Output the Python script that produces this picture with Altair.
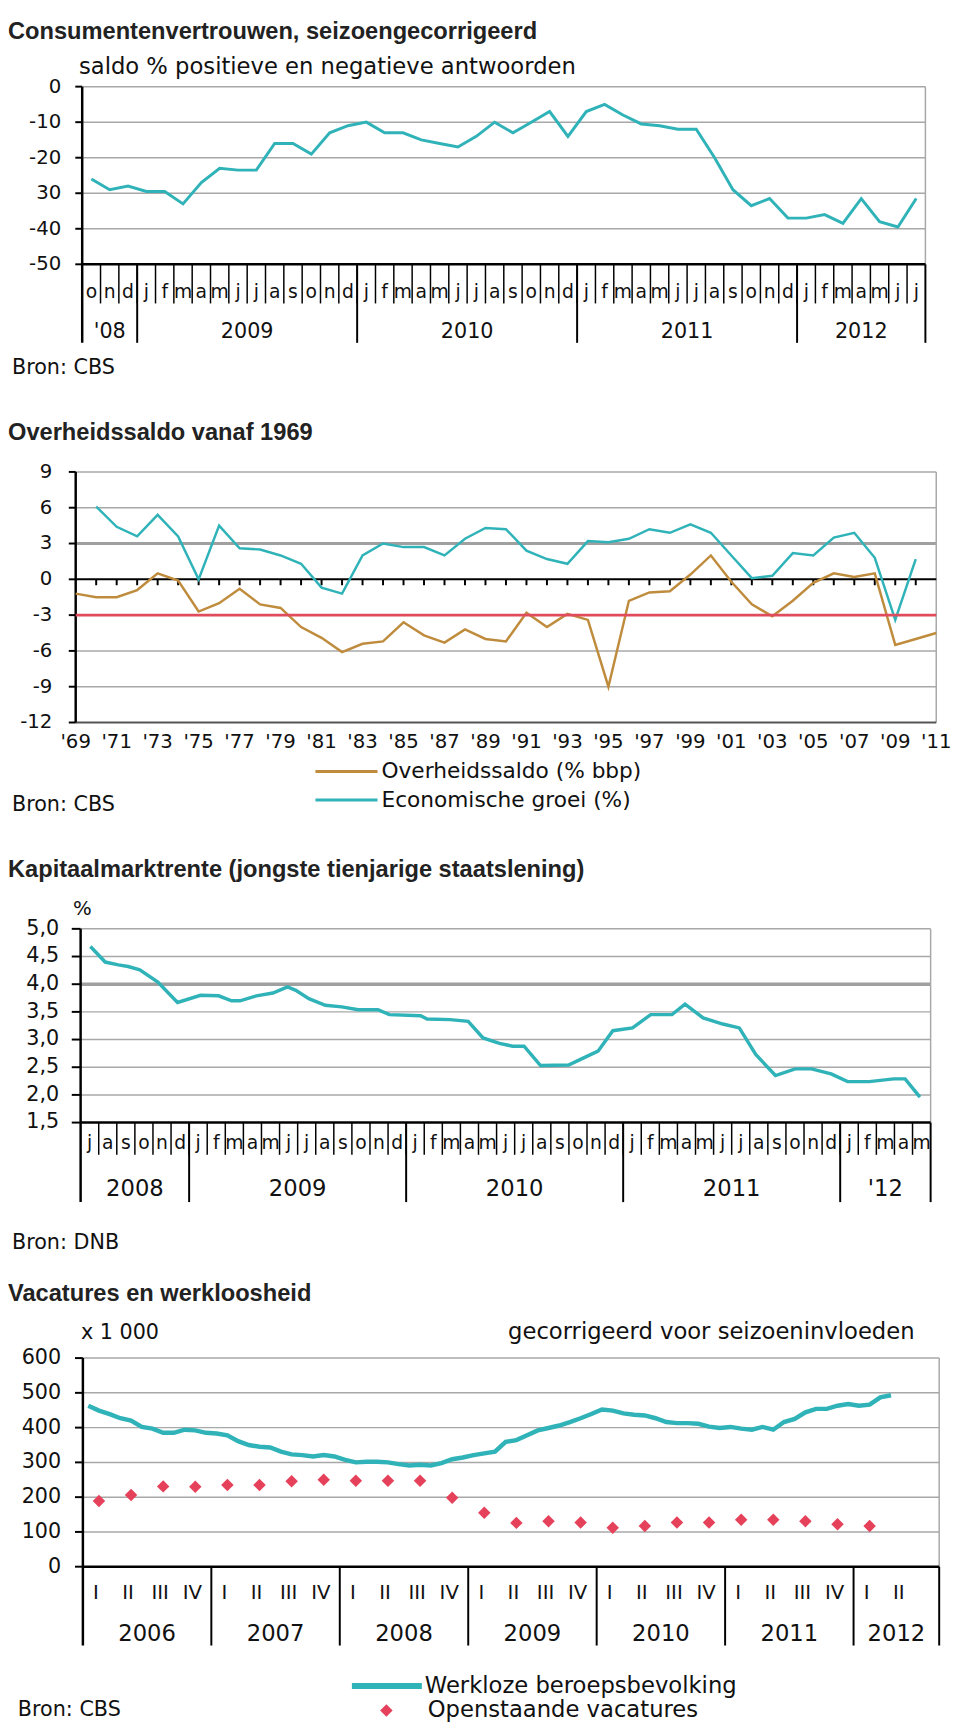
import altair as alt
import pandas as pd

# ---------------- data ----------------
# Panel 1: Consumentenvertrouwen, okt 2008 - jul 2012 (maandelijks)
cc_month_letters = list("ond") + list("jfmamjjasond") * 3 + list("jfmamjj")
cc_year_labels = ["'08", "2009", "2010", "2011", "2012"]
cc_year_months = [3, 12, 12, 12, 7]
cc_values = [-26, -29, -28, -29.5, -29.5, -33, -27, -23, -23.5, -23.5, -16, -16,
             -19, -13, -11, -10, -13, -13, -15, -16, -17, -14, -10, -13, -10, -7,
             -14, -7, -5, -8, -10.5, -11, -12, -12, -20, -29, -33.5, -31.5, -37,
             -37, -36, -38.5, -31.5, -38, -39.5, -31.5]
cc_ticks = [0, -10, -20, -30, -40, -50]
cc_tick_labels = ["0", "-10", "-20", "30", "-40", "-50"]

# Panel 2: Overheidssaldo en economische groei (jaarlijks)
os_years = list(range(1969, 2012))
os_saldo = [-1.2, -1.5, -1.5, -0.9, 0.5, -0.1, -2.7, -2.0, -0.8, -2.1, -2.4, -4.0,
            -4.9, -6.1, -5.4, -5.2, -3.6, -4.7, -5.3, -4.2, -5.0, -5.2, -2.8, -4.0,
            -2.9, -3.4, -9.0, -1.8, -1.1, -1.0, 0.4, 2.0, -0.2, -2.1, -3.1, -1.8,
            -0.3, 0.5, 0.2, 0.5, -5.5, -5.0, -4.5]
eg_years = list(range(1970, 2011))
eg_groei = [6.1, 4.4, 3.6, 5.4, 3.6, 0.0, 4.5, 2.6, 2.5, 2.0, 1.3, -0.7, -1.2, 2.0,
            3.0, 2.7, 2.7, 2.0, 3.4, 4.3, 4.2, 2.4, 1.7, 1.3, 3.2, 3.1, 3.4, 4.2,
            3.9, 4.6, 3.9, 2.0, 0.1, 0.3, 2.2, 2.0, 3.5, 3.9, 1.8, -3.4, 1.7]
os_ticks = [9, 6, 3, 0, -3, -6, -9, -12]
os_grid_thin = [9, 6, -6, -9]
os_norm = [-3]
os_label_years = list(range(1969, 2012, 2))
os_legend = ["Overheidssaldo (% bbp)", "Economische groei (%)"]

# Panel 3: Kapitaalmarktrente, jul 2008 - mei 2012 (tijd in maanden vanaf jul 2008)
kr_month_letters = list("jasond") + list("jfmamjjasond") * 3 + list("jfmam")
kr_year_labels = ["2008", "2009", "2010", "2011", "'12"]
kr_year_months = [6, 12, 12, 12, 5]
kr_time = [0.54, 1.36, 2.09, 2.63, 3.27, 4.27, 5.36, 6.63, 7.63, 8.35, 8.81, 9.72,
           10.63, 11.44, 11.9, 12.62, 13.53, 14.44, 15.35, 16.44, 17.07, 18.8, 19.16,
           20.44, 21.43, 22.25, 23.16, 23.89, 24.52, 25.43, 26.98, 27.7, 28.61, 29.43,
           30.52, 31.52, 32.7, 33.42, 34.42, 35.51, 36.42, 37.33, 38.42, 39.51, 40.41,
           41.5, 42.41, 43.6, 44.96, 45.59, 46.41]
kr_rate = [4.68, 4.40, 4.35, 4.32, 4.26, 4.04, 3.67, 3.80, 3.79, 3.70, 3.70, 3.79,
           3.84, 3.95, 3.89, 3.74, 3.62, 3.59, 3.54, 3.54, 3.45, 3.43, 3.37, 3.36,
           3.33, 3.03, 2.93, 2.88, 2.88, 2.53, 2.54, 2.65, 2.79, 3.16, 3.21, 3.45,
           3.45, 3.64, 3.39, 3.28, 3.21, 2.73, 2.35, 2.47, 2.47, 2.38, 2.24, 2.24,
           2.29, 2.29, 1.96]
kr_ticks = [5.0, 4.5, 4.0, 3.5, 3.0, 2.5, 2.0, 1.5]
kr_tick_labels = ["5,0", "4,5", "4,0", "3,5", "3,0", "2,5", "2,0", "1,5"]
kr_grid_thin = [5.0, 4.5, 3.5, 3.0, 2.5, 2.0]
kr_grid_thick = [4.0]

# Panel 4: Vacatures en werkloosheid (x 1000)
wl_values = [463, 449, 439, 427, 420, 402, 397, 385, 385, 394,
             392, 385, 383, 378, 361, 350, 345, 343, 331, 323,
             321, 317, 321, 317, 307, 300, 302, 302, 300, 295,
             291, 293, 291, 298, 309, 314, 321, 326, 331, 359,
             364, 378, 392, 399, 406, 416, 427, 439, 452, 449,
             441, 437, 435, 427, 416, 413, 413, 411, 403, 399,
             402, 397, 394, 402, 394, 416, 425, 444, 454, 454,
             463, 468, 463, 466, 487, 493]          # maandelijks vanaf jan 2006
vac_values = [189, 206, 231, 230, 235, 235, 246, 250, 247, 247, 247, 198, 155,
              126, 131, 127, 112, 117, 127, 127, 135, 135, 131, 122, 117]  # kwartalen vanaf 2006-I
vw_quarter_labels = ["I", "II", "III", "IV"] * 6 + ["I", "II"]
vw_year_labels = ["2006", "2007", "2008", "2009", "2010", "2011", "2012"]
vw_ticks = [0, 100, 200, 300, 400, 500, 600]
vw_legend = ["Werkloze beroepsbevolking", "Openstaande vacatures"]

# ---------------- styling ----------------
FONT = "DejaVu Sans"
TFONT = "Liberation Sans"
TEAL = "#30b3b8"
BROWN = "#bf8c3e"
RED = "#e04c5c"
DIAMOND = "#e6415a"
GRID = "#a8a8a8"
DARK = "#000000"
INK = "#111111"
W = 944
TSIZE = 24


def one():
    return pd.DataFrame({"k": [0]})


def px(xp):
    return xp - 8


def text(t, x, y, size, align="left", weight="normal", font=FONT, color=INK):
    return alt.Chart(pd.DataFrame({"t": [t]})).mark_text(
        align=align, baseline="middle", fontSize=size, font=font,
        fontWeight=weight, color=color
    ).encode(x=alt.value(x), y=alt.value(y), text="t:N")


def vline(x, y1, y2, color=DARK, w=2.0):
    return alt.Chart(one()).mark_rule(color=color, strokeWidth=w).encode(
        x=alt.value(x), y=alt.value(y1), y2=alt.value(y2))


def hline(y, x1, x2, color=DARK, w=2.0):
    return alt.Chart(one()).mark_rule(color=color, strokeWidth=w).encode(
        y=alt.value(y), x=alt.value(x1), x2=alt.value(x2))


def cum(counts):
    edges = [0]
    for c in counts:
        edges.append(edges[-1] + c)
    return edges


def y_axis(ticks, labels, ys, L, tick_len, label_x, size):
    tdf = pd.DataFrame({"y": ticks, "t": labels})
    ticks_l = alt.Chart(tdf).mark_rule(color=DARK, strokeWidth=2).encode(
        y=alt.Y("y:Q", scale=ys, axis=None), x=alt.value(L - tick_len), x2=alt.value(L))
    labs = alt.Chart(tdf).mark_text(align="right", baseline="middle", fontSize=size,
                                    font=FONT, color=INK).encode(
        y=alt.Y("y:Q", scale=ys, axis=None), x=alt.value(label_x), text="t:N")
    return [ticks_l, labs]


def hgrid(vals, ys, L, R, color=GRID, w=1.5):
    return alt.Chart(pd.DataFrame({"y": vals})).mark_rule(color=color, strokeWidth=w).encode(
        y=alt.Y("y:Q", scale=ys, axis=None), x=alt.value(L), x2=alt.value(R))


def vticks(vals, xs, y1, y2, w=1.5):
    return alt.Chart(pd.DataFrame({"x": vals})).mark_rule(color=DARK, strokeWidth=w).encode(
        x=alt.X("x:Q", scale=xs, axis=None), y=alt.value(y1), y2=alt.value(y2))


def xlabels(vals, labels, xs, y, size, dx=0):
    return alt.Chart(pd.DataFrame({"x": vals, "t": labels})).mark_text(
        align="center", baseline="middle", fontSize=size, font=FONT, color=INK, dx=dx
    ).encode(x=alt.X("x:Q", scale=xs, axis=None), y=alt.value(y), text="t:N")


# ---------------- panel 1 ----------------
T1 = 8
H1 = 392
L1, R1 = px(83.3), px(939)
ys1 = alt.Scale(domain=[-50, 0], range=[248.3 - T1, 68 - T1], nice=False, zero=False)
xs1 = alt.Scale(domain=[0, sum(cc_year_months)], range=[L1, R1], nice=False, zero=False)
e1 = cum(cc_year_months)
ybot1 = 248.3 - T1
p1_layers = [
    hgrid([0, -10, -20, -30, -40], ys1, L1, R1),
    alt.Chart(pd.DataFrame({"y": [0], "y2": [-50]})).mark_rule(color=GRID, strokeWidth=1.5).encode(
        y=alt.Y("y:Q", scale=ys1, axis=None), y2="y2:Q", x=alt.value(R1)),
    vticks(list(range(1, e1[-1])), xs1, ybot1, 288 - T1, 1.5),
    vticks(e1[1:], xs1, ybot1, 328 - T1, 2),
    hgrid([-50], ys1, L1, R1, DARK, 2.5),
    vline(L1, 68 - T1, 328 - T1, DARK, 2.5),
    *y_axis(cc_ticks, cc_tick_labels, ys1, L1, 7, px(62), 20),
    xlabels([i + 0.5 for i in range(len(cc_month_letters))], cc_month_letters, xs1, 276 - T1, 19),
    xlabels([(e1[i] + e1[i + 1]) / 2 for i in range(len(cc_year_labels))], cc_year_labels, xs1, 317 - T1, 21),
    alt.Chart(pd.DataFrame({"x": [i + 0.5 for i in range(len(cc_values))], "y": cc_values})).mark_line(
        color=TEAL, strokeWidth=3).encode(
        x=alt.X("x:Q", scale=xs1, axis=None), y=alt.Y("y:Q", scale=ys1, axis=None)),
    text("Consumentenvertrouwen, seizoengecorrigeerd", 0, 13 - T1, TSIZE, weight="bold", font=TFONT, color="#222222"),
    text("saldo % positieve en negatieve antwoorden", px(80), 48 - T1, 23),
    text("Bron: CBS", px(12), 354 - T1, 21),
]
p1 = alt.layer(*p1_layers).properties(width=W, height=H1)

# ---------------- panel 2 ----------------
T2 = 400
H2 = 436
L2, R2 = px(76.7), px(950)
ys2 = alt.Scale(domain=[-12, 9], range=[713.3 - T2, 459 - T2], nice=False, zero=False)
xs2 = alt.Scale(domain=[1969, 2011], range=[L2, R2], nice=False, zero=False)
y0_2 = 568 - T2
p2_layers = [
    hgrid(os_grid_thin, ys2, L2, R2),
    hgrid([3], ys2, L2, R2, "#a0a0a0", 3),
    alt.Chart(pd.DataFrame({"y": [9], "y2": [-12]})).mark_rule(color=GRID, strokeWidth=1.5).encode(
        y=alt.Y("y:Q", scale=ys2, axis=None), y2="y2:Q", x=alt.value(R2)),
    hgrid([-12], ys2, L2, R2, "#555555", 2),
    hgrid([0], ys2, L2, R2, DARK, 2),
    vticks(list(range(1970, 2011)), xs2, y0_2, y0_2 + 6, 2),
    vline(L2, 459 - T2, 713.3 - T2, DARK, 2.5),
    *y_axis(os_ticks, [str(v) for v in os_ticks], ys2, L2, 7, px(53), 20),
    xlabels(os_label_years, ["'" + str(y)[2:] for y in os_label_years], xs2, 733 - T2, 20),
    alt.Chart(pd.DataFrame({"x": eg_years, "y": eg_groei})).mark_line(color=TEAL, strokeWidth=2.5).encode(
        x=alt.X("x:Q", scale=xs2, axis=None), y=alt.Y("y:Q", scale=ys2, axis=None)),
    alt.Chart(pd.DataFrame({"x": os_years, "y": os_saldo})).mark_line(color=BROWN, strokeWidth=2.5).encode(
        x=alt.X("x:Q", scale=xs2, axis=None), y=alt.Y("y:Q", scale=ys2, axis=None)),
    hgrid(os_norm, ys2, L2, R2, RED, 3),
    text("Overheidssaldo vanaf 1969", 0, 420 - T2, TSIZE, weight="bold", font=TFONT, color="#222222"),
    hline(763 - T2, px(320), px(383), BROWN, 3),
    hline(792 - T2, px(320), px(383), TEAL, 3),
    text(os_legend[0], px(387), 763 - T2, 22),
    text(os_legend[1], px(387), 792 - T2, 22),
    text("Bron: CBS", px(12), 797 - T2, 21),
]
p2 = alt.layer(*p2_layers).properties(width=W, height=H2)

# ---------------- panel 3 ----------------
T3 = 836
H3 = 432
L3, R3 = px(81.7), px(944.3)
ys3 = alt.Scale(domain=[1.5, 5.0], range=[1119.3 - T3, 922.7 - T3], nice=False, zero=False)
xs3 = alt.Scale(domain=[0, sum(kr_year_months)], range=[L3, R3], nice=False, zero=False)
e3 = cum(kr_year_months)
ybot3 = 1119.3 - T3
p3_layers = [
    hgrid(kr_grid_thin, ys3, L3, R3),
    hgrid(kr_grid_thick, ys3, L3, R3, "#a0a0a0", 3.5),
    alt.Chart(pd.DataFrame({"y": [5.0], "y2": [1.5]})).mark_rule(color=GRID, strokeWidth=1.5).encode(
        y=alt.Y("y:Q", scale=ys3, axis=None), y2="y2:Q", x=alt.value(R3)),
    vticks(list(range(1, e3[-1])), xs3, ybot3, 1152 - T3, 1.5),
    vticks(e3[1:], xs3, ybot3, 1200 - T3, 2),
    hgrid([1.5], ys3, L3, R3, DARK, 2.5),
    vline(L3, 922.7 - T3, 1200 - T3, DARK, 2.5),
    *y_axis(kr_ticks, kr_tick_labels, ys3, L3, 9, px(60), 21),
    xlabels([i + 0.5 for i in range(len(kr_month_letters))], kr_month_letters, xs3, 1140 - T3, 19),
    xlabels([(e3[i] + e3[i + 1]) / 2 for i in range(len(kr_year_labels))], kr_year_labels, xs3, 1187 - T3, 23),
    alt.Chart(pd.DataFrame({"x": kr_time, "y": kr_rate})).mark_line(color=TEAL, strokeWidth=3.5).encode(
        x=alt.X("x:Q", scale=xs3, axis=None), y=alt.Y("y:Q", scale=ys3, axis=None)),
    text("Kapitaalmarktrente (jongste tienjarige staatslening)", 0, 863 - T3, TSIZE, weight="bold", font=TFONT, color="#222222"),
    text("%", px(74), 903 - T3, 20),
    text("Bron: DNB", px(12), 1242 - T3, 21),
]
p3 = alt.layer(*p3_layers).properties(width=W, height=H3)

# ---------------- panel 4 ----------------
T4 = 1268
H4 = 459
L4, R4 = px(84), px(953)
VW_MONTHS = 80
ys4 = alt.Scale(domain=[0, 600], range=[1570 - T4, 1358.3 - T4], nice=False, zero=False)
xs4 = alt.Scale(domain=[0, VW_MONTHS], range=[L4, R4], nice=False, zero=False)
e4 = [12 * i for i in range(len(vw_year_labels))] + [VW_MONTHS]
ybot4 = 1570 - T4
p4_layers = [
    hgrid([100, 200, 300, 400, 500, 600], ys4, L4, R4),
    alt.Chart(pd.DataFrame({"y": [600], "y2": [0]})).mark_rule(color=GRID, strokeWidth=1.5).encode(
        y=alt.Y("y:Q", scale=ys4, axis=None), y2="y2:Q", x=alt.value(R4)),
    vticks(e4[1:], xs4, ybot4, 1650 - T4, 2),
    hgrid([0], ys4, L4, R4, DARK, 2.5),
    vline(L4, 1358.3 - T4, 1650 - T4, DARK, 2.5),
    *y_axis(vw_ticks, [str(v) for v in vw_ticks], ys4, L4, 8, px(62), 21),
    xlabels([3 * q + 1.5 for q in range(len(vw_quarter_labels))], vw_quarter_labels, xs4, 1597 - T4, 20, dx=-3),
    xlabels([(e4[i] + e4[i + 1]) / 2 for i in range(len(vw_year_labels))], vw_year_labels, xs4, 1638 - T4, 23),
    alt.Chart(pd.DataFrame({"x": [m + 0.5 for m in range(len(wl_values))], "y": wl_values})).mark_line(
        color=TEAL, strokeWidth=4.5).encode(
        x=alt.X("x:Q", scale=xs4, axis=None), y=alt.Y("y:Q", scale=ys4, axis=None)),
    alt.Chart(pd.DataFrame({"x": [3 * q + 1.5 for q in range(len(vac_values))], "y": vac_values})).mark_point(
        shape="diamond", filled=True, size=160, color=DIAMOND, opacity=1).encode(
        x=alt.X("x:Q", scale=xs4, axis=None), y=alt.Y("y:Q", scale=ys4, axis=None)),
    text("Vacatures en werkloosheid", 0, 1293 - T4, TSIZE, weight="bold", font=TFONT, color="#222222"),
    text("x 1 000", px(82), 1333 - T4, 21),
    text("gecorrigeerd voor seizoeninvloeden", px(928), 1332 - T4, 23, align="right"),
    hline(1691 - T4, px(357), px(428), TEAL, 6),
    text(vw_legend[0], px(431), 1691 - T4, 23),
    alt.Chart(one()).mark_point(shape="diamond", filled=True, size=160, color=DIAMOND, opacity=1).encode(
        x=alt.value(px(392)), y=alt.value(1716 - T4)),
    text(vw_legend[1], px(434), 1716 - T4, 23),
    text("Bron: CBS", px(18), 1716 - T4, 21),
]
p4 = alt.layer(*p4_layers).properties(width=W, height=H4)

chart = alt.vconcat(p1, p2, p3, p4, spacing=0, bounds="flush").resolve_scale(
    x="independent", y="independent"
).properties(padding=0).configure_view(stroke=None)

chart.save("out.html", embed_options={"renderer": "svg", "actions": False})
